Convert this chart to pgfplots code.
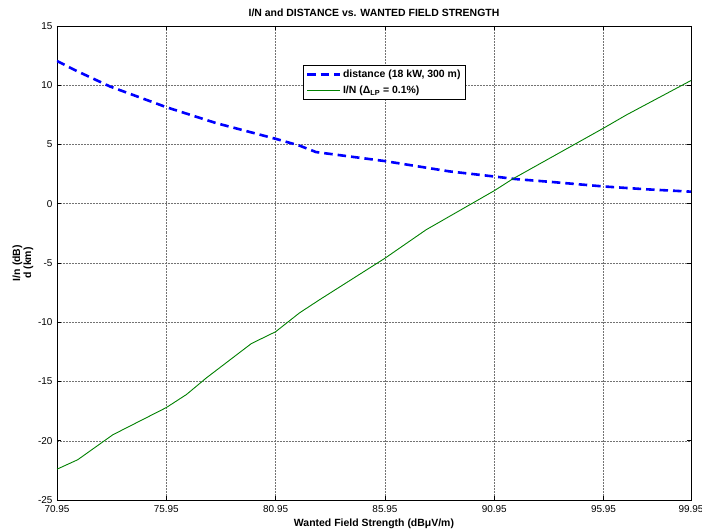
\documentclass[border=0pt]{standalone}
\usepackage{pgfplots}
\pgfplotsset{compat=1.18}
\usepackage{fontspec}
\setmainfont{Liberation Sans}
\definecolor{mgreen}{rgb}{0,0.5,0}
\begin{document}
\begin{tikzpicture}
\useasboundingbox (-57bp,-30bp) rectangle (645bp,500bp);
\begin{axis}[
  at={(0,0)}, anchor=south west,
  scale only axis, width=634bp, height=474bp,
  xmin=70.95, xmax=99.95, ymin=-25, ymax=15,
  xtick={70.95,75.95,80.95,85.95,90.95,95.95,99.95},
  xticklabels={70.95,75.95,80.95,85.95,90.95,95.95,99.95},
  ytick={-25,-20,...,15},
  yticklabels={-25,-20,-15,-10,-5,0,5,10,15},
  tick align=inside, major tick length=4bp,
  xtick pos=both, ytick pos=both,
  tick style={black, line width=0.6pt},
  axis line style={black, line width=0.8pt},
  grid=major,
  major grid style={black!55, line width=0.5pt, densely dotted},
  ticklabel style={font=\fontsize{10}{11}\selectfont},
  xticklabel style={yshift=-2.5bp},
  yticklabel style={xshift=-1bp},
  title={\textbf{I/N and DISTANCE vs. WANTED FIELD STRENGTH}},
  title style={font=\fontsize{10.5}{12}\selectfont, yshift=0bp},
  xlabel={\textbf{Wanted Field Strength (dBμV/m)}},
  xlabel style={font=\fontsize{10.5}{12}\selectfont, yshift=1bp},
  ylabel={\textbf{I/n (dB)}\\\textbf{d (km)}},
  ylabel style={font=\fontsize{10.5}{11}\selectfont, align=center, yshift=-2bp},
  legend style={at={(0.388,0.918)}, anchor=north west, draw=black, line width=0.8pt,
     font=\fontsize{10.5}{12}\selectfont\bfseries, inner sep=2.5pt, row sep=3bp},
  legend cell align=left,
  legend image code/.code={\draw[#1] (0cm,0cm) -- (1.15cm,0cm);},
]
\addplot[blue, line width=2.6bp, dash pattern=on 8.5bp off 5bp] coordinates {
(70.95,12.05) (71.8,11.25) (73.37,9.9) (75.95,8.15) (78.24,6.8) (80.95,5.48)
(82.05,4.9) (82.8,4.36) (85.95,3.6) (88.9,2.73) (90.95,2.3) (91.94,2.08)
(93.5,1.85) (95.95,1.46) (97.9,1.22) (99.95,1.02)
};
\addlegendentry{distance (18 kW, 300 m)}
\addplot[mgreen, line width=0.9bp] coordinates {
(70.95,-22.4) (71.9,-21.6) (73.5,-19.5) (75.95,-17.2) (76.87,-16.1) (77.78,-14.7)
(79.84,-11.8) (80.95,-10.8) (82.05,-9.2) (82.96,-8.1) (85.95,-4.6) (87.83,-2.2)
(90.95,1.1) (91.8,2.1) (95.95,6.38) (97.0,7.5) (99.95,10.4)
};
\addlegendentry{I/N (Δ\textsubscript{LP} = 0.1\%)}
\end{axis}
\end{tikzpicture}
\end{document}
